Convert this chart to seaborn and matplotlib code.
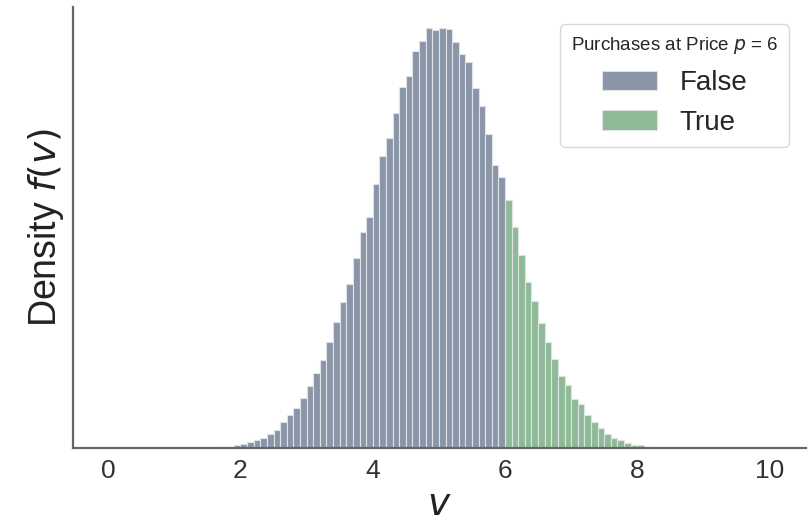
import numpy as np
import pandas as pd
import matplotlib
matplotlib.use("Agg")
import matplotlib.pyplot as plt
import seaborn as sns

# Left edges of the histogram bins (width 0.1) and bar heights
bin_left = [1.5, 1.6, 1.7, 1.8, 1.9, 2.0, 2.1, 2.2, 2.3, 2.4, 2.5, 2.6, 2.7, 2.8, 2.9,
            3.0, 3.1, 3.2, 3.3, 3.4, 3.5, 3.6, 3.7, 3.8, 3.9, 4.0, 4.1, 4.2, 4.3, 4.4,
            4.5, 4.6, 4.7, 4.8, 4.9, 5.0, 5.1, 5.2, 5.3, 5.4, 5.5, 5.6, 5.7, 5.8, 5.9,
            6.0, 6.1, 6.2, 6.3, 6.4, 6.5, 6.6, 6.7, 6.8, 6.9, 7.0, 7.1, 7.2, 7.3, 7.4,
            7.5, 7.6, 7.7, 7.8, 7.9, 8.0, 8.1, 8.2, 8.3]
density = [0.2, 0.4, 1.0, 1.2, 3.0, 3.4, 5.4, 7.7, 10.2, 13.6, 18, 25.6, 33, 40, 49.5,
           61.5, 74.7, 87.5, 105.5, 125.5, 145, 163.7, 189.5, 215, 230.5, 263, 291, 309, 334, 360,
           370, 395, 405, 418, 416, 418, 417, 404, 392, 384, 359, 341, 313, 282, 270,
           247, 220, 192, 165, 146, 124, 105, 89, 72, 63, 49, 44, 33, 26, 20,
           14, 10, 8, 4.5, 2.5, 2.5, 1.2, 0.7, 0.3]
price = 6
bin_width = 0.1
x_ticks = [0, 2, 4, 6, 8, 10]

df = pd.DataFrame({"v": np.array(bin_left) + bin_width / 2, "w": density})
df["purchase"] = df["v"] >= price
edges = [float(b) for b in bin_left] + [bin_left[-1] + bin_width]

sns.set_style("white")
plt.rcParams["font.family"] = ["Liberation Sans", "DejaVu Sans"]
plt.rcParams["mathtext.fontset"] = "dejavusans"

fig = plt.figure(figsize=(8.08, 5.22), dpi=100)
ax = fig.add_axes([0.0905, 0.142, 0.907, 0.844])

palette = {False: "#8A95A8", True: "#8FBA97"}
sns.histplot(data=df, x="v", weights="w", hue="purchase", bins=edges,
             multiple="stack", palette=palette, alpha=1.0, hue_order=[False, True],
             edgecolor="#dfe3e8", linewidth=0.8, ax=ax)

ax.set_xlim(-0.53, 10.55)
ax.set_xticks(x_ticks)
ax.set_xticklabels([str(t) for t in x_ticks])
ax.set_yticks([])
ax.tick_params(axis="x", labelsize=19, colors="#333333", length=0, pad=8)
ax.set_xlabel("$v$", fontsize=27, color="#222222", labelpad=3)
ax.set_ylabel("Density $f(v)$", fontsize=27, color="#222222", labelpad=5)
for s in ["top", "right"]:
    ax.spines[s].set_visible(False)
for s in ["left", "bottom"]:
    ax.spines[s].set_color("#666666")
    ax.spines[s].set_linewidth(1.6)

leg = ax.get_legend()
handles = leg.legend_handles
ax.legend(handles, ["False", "True"], title="Purchases at Price $p$ = 6",
          loc="upper right", fontsize=20, title_fontsize=13.5, frameon=True,
          edgecolor="#d0d0d0", fancybox=True, borderaxespad=0.6)

fig.savefig("out.png", dpi=100)
